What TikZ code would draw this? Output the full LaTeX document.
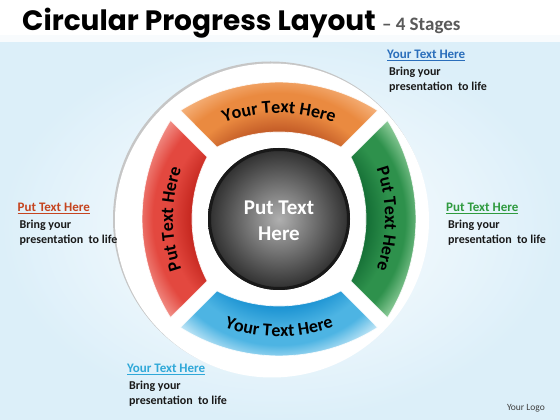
\documentclass[tikz,border=0pt]{standalone}
\usepackage{fontspec}
\setmainfont{Carlito}
\newfontfamily\titlefont{Poppins}
\usetikzlibrary{positioning,decorations.text}

\definecolor{bgblue}{HTML}{DCEFF9}
\definecolor{headblue}{HTML}{2A6EBB}
\definecolor{headred}{HTML}{C5441F}
\definecolor{headgreen}{HTML}{2E9A3E}
\definecolor{headcyan}{HTML}{2FA8D8}
\definecolor{titlegray}{HTML}{5A5A5A}
\definecolor{orangein}{HTML}{C25A26}
\definecolor{orangemid}{HTML}{EA8A40}
\definecolor{orangeout}{HTML}{F5B27C}
\definecolor{redin}{HTML}{C4261E}
\definecolor{redmid}{HTML}{E3483F}
\definecolor{redout}{HTML}{F29189}
\definecolor{greenin}{HTML}{146E35}
\definecolor{greenmid}{HTML}{2E914C}
\definecolor{greenout}{HTML}{93CF9E}
\definecolor{bluein}{HTML}{1A92D2}
\definecolor{bluemid}{HTML}{4DB4E3}
\definecolor{blueout}{HTML}{C6E8F7}

\colorlet{segin}{black}\colorlet{segmid}{gray}\colorlet{segout}{white}
\pgfdeclareradialshading[segin,segmid,segout]{segshade}{\pgfpoint{0bp}{0bp}}{%
  color(0bp)=(segin); color(14.5bp)=(segin); color(18.5bp)=(segmid);
  color(21bp)=(segmid); color(24.5bp)=(segout); color(50bp)=(segout)}

\newcommand\segpath{(98.6,108.5) arc[start angle=57.8,end angle=122.2,radius=185]
  -- (-62,71.9) arc[start angle=117.35,end angle=62.65,radius=135] -- cycle}
\newcommand\segfont{\fontsize{18}{18}\selectfont\bfseries}

\begin{document}
\begin{tikzpicture}[x=1pt,y=1pt,
    seg/.style={draw=white,line width=0.8pt,draw opacity=0.8},
    segtext/.style={decorate,decoration={text along path,text align=center,text={|\segfont|#1}}},
    head/.style={inner sep=0pt,anchor=base west,font=\fontsize{13}{15}\selectfont\bfseries},
    body/.style={inner sep=0pt,align=left,font=\fontsize{12}{14.5}\selectfont\bfseries,text=black!90}]
  % background
  \fill[white] (0,0) rectangle (560,420);
  \shade[inner color=white,outer color=bgblue] (0,0) rectangle (560,384);
  \shade[top color=white,bottom color=white,opacity=0.8] (0,384) rectangle (560,378);
  \useasboundingbox (0,0) rectangle (560,420);

  % title
  \node[inner sep=0pt,anchor=base west] (title) at (22,389)
    {\titlefont\bfseries\fontsize{28}{28}\selectfont Circular Progress Layout};
  \node[inner sep=0pt,anchor=base west,text=titlegray] (subtitle) at ([xshift=6pt]title.base east)
    {\fontsize{19}{19}\selectfont\bfseries -- 4 Stages};

  % disk
  \coordinate (ring) at (279,201);
  \coordinate (disk) at (272,199.5);
  \fill[gray!45] ([shift={(-1.5,1.5)}]disk) circle (157.5);
  \fill[white] (disk) circle (157);

  % segments
  \foreach \rot/\cin/\cmid/\cout in {0/orangein/orangemid/orangeout,
      90/redin/redmid/redout, 180/bluein/bluemid/blueout, -90/greenin/greenmid/greenout} {
    \colorlet{segin}{\cin}\colorlet{segmid}{\cmid}\colorlet{segout}{\cout}
    \begin{scope}[shift={(ring)},rotate=\rot]
      \begin{scope}
        \clip \segpath;
        \shade[shading=segshade] (0,0) circle (150);
      \end{scope}
      \draw[seg] \segpath;
    \end{scope}
  }
  \path[segtext={Your Text Here}] (ring) ++(-108.9,60.9) arc[start angle=135,end angle=45,radius=154];
  \path[segtext={Put Text Here}] (ring) ++(-60.9,-108.9) arc[start angle=225,end angle=135,radius=154];
  \path[segtext={Put Text Here}] (ring) ++(60.9,108.9) arc[start angle=45,end angle=-45,radius=154];
  \path[segtext={Your Text Here}] (ring) ++(-117,-69) arc[start angle=225,end angle=315,radius=165.5];

  % hub
  \shade[inner color=gray!62,outer color=black!82] (ring) circle (71);
  \draw[black!90,line width=3pt] (ring) circle (69.5);
  \node[align=center,text=white,font=\fontsize{21}{25.7}\selectfont\bfseries] (hub)
    at ([yshift=-2pt]ring) {Put Text\\Here};

  % side texts
  \node[head,text=headblue] (trhead) at (387,361) {\underline{Your Text Here}};
  \node[body] (trbody) [below right=6pt and 2pt of trhead.south west] {Bring your\\presentation\ \ to life};
  \node[head,text=headred] (lhead) at (17.5,208) {\underline{Put Text Here}};
  \node[body] (lbody) [below right=6pt and 2pt of lhead.south west] {Bring your\\presentation\ \ to life};
  \node[head,text=headgreen] (rhead) at (446,208) {\underline{Put Text Here}};
  \node[body] (rbody) [below right=6pt and 2pt of rhead.south west] {Bring your\\presentation\ \ to life};
  \node[head,text=headcyan] (bhead) at (127,47) {\underline{Your Text Here}};
  \node[body] (bbody) [below right=6pt and 2pt of bhead.south west] {Bring your\\presentation\ \ to life};

  \node[inner sep=0pt,anchor=base east,text=black!75,font=\fontsize{9.5}{10}\selectfont] (logo)
    at (545,9) {Your Logo};
\end{tikzpicture}
\end{document}
